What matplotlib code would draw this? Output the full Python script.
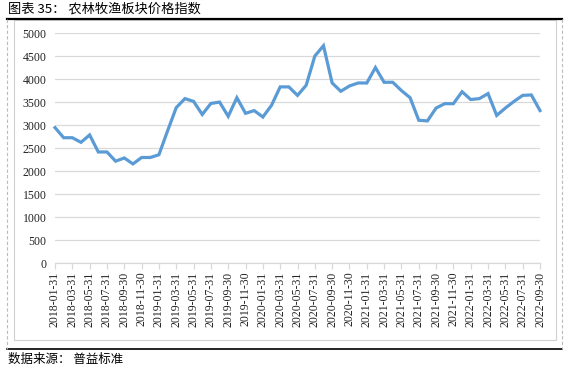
import numpy as np
import matplotlib.pyplot as plt
from matplotlib.lines import Line2D
from matplotlib.patches import Rectangle

# 月末日期（2018-01 到 2022-09）
fechas = ['2018-01-31', '2018-02-28', '2018-03-31', '2018-04-30', '2018-05-31', '2018-06-30',
          '2018-07-31', '2018-08-31', '2018-09-30', '2018-10-31', '2018-11-30', '2018-12-31',
          '2019-01-31', '2019-02-28', '2019-03-31', '2019-04-30', '2019-05-31', '2019-06-30',
          '2019-07-31', '2019-08-31', '2019-09-30', '2019-10-31', '2019-11-30', '2019-12-31',
          '2020-01-31', '2020-02-29', '2020-03-31', '2020-04-30', '2020-05-31', '2020-06-30',
          '2020-07-31', '2020-08-31', '2020-09-30', '2020-10-31', '2020-11-30', '2020-12-31',
          '2021-01-31', '2021-02-28', '2021-03-31', '2021-04-30', '2021-05-31', '2021-06-30',
          '2021-07-31', '2021-08-31', '2021-09-30', '2021-10-31', '2021-11-30', '2021-12-31',
          '2022-01-31', '2022-02-28', '2022-03-31', '2022-04-30', '2022-05-31', '2022-06-30',
          '2022-07-31', '2022-08-31', '2022-09-30']

indice = [2950, 2730, 2730, 2630, 2790, 2420, 2420, 2220, 2290, 2160,
          2300, 2300, 2360, 2880, 3385, 3580, 3520, 3235, 3475, 3505,
          3195, 3600, 3260, 3320, 3180, 3435, 3835, 3835, 3650, 3870,
          4505, 4730, 3920, 3740, 3855, 3920, 3920, 4255, 3935, 3935,
          3755, 3600, 3110, 3095, 3375, 3470, 3470, 3730, 3560, 3580,
          3690, 3215, 3375, 3520, 3650, 3660, 3320]

yticks = [0, 500, 1000, 1500, 2000, 2500, 3000, 3500, 4000, 4500, 5000]

plt.rcParams['font.family'] = ['Liberation Serif', 'Noto Sans CJK SC']

fig = plt.figure(figsize=(5.74, 3.68), dpi=100)
W, H = 574, 368

def fx(px):
    return px / W

def fy(py):
    return 1 - py / H

# marco exterior
fig.add_artist(Line2D([fx(7), fx(562)], [fy(18.5), fy(18.5)], color='black', lw=1.6))
fig.add_artist(Line2D([fx(7), fx(562)], [fy(349), fy(349)], color='black', lw=1.2))
for xv in [7, 562]:
    fig.add_artist(Line2D([fx(xv), fx(xv)], [fy(19), fy(349)], color='#bbbbbb', lw=0.8, ls=(0, (3, 2))))
fig.add_artist(Rectangle((fx(14), fy(340)), fx(556) - fx(14), fy(20) - fy(340),
                         fill=False, edgecolor='#d0d0d0', lw=0.8))

fig.text(fx(8), fy(9.5), '图表 35： 农林牧渔板块价格指数', fontsize=9.5,
         family=['Noto Sans CJK SC'], va='center', ha='left')
fig.text(fx(8), fy(359), '数据来源： 普益标准', fontsize=9,
         family=['Noto Sans CJK SC'], va='center', ha='left')

ax = fig.add_axes([fx(55), fy(263.3), fx(540) - fx(55), fy(33.3) - fy(263.3)])
x = np.arange(len(indice))
ax.plot(x, indice, color='#5B9BD5', lw=2.3, solid_joinstyle='miter', clip_on=False)

ax.set_xlim(0, len(indice) - 1)
ax.set_ylim(0, 5000)
ax.set_yticks(yticks)
ax.set_yticklabels([str(v) for v in yticks])
ax.set_xticks(x[::2])
ax.set_xticklabels(fechas[::2], rotation=90)

ax.grid(axis='y', color='#d9d9d9', lw=0.9)
ax.set_axisbelow(True)
for s in ['top', 'right', 'left']:
    ax.spines[s].set_visible(False)
ax.spines['bottom'].set_color('#d9d9d9')
ax.spines['bottom'].set_linewidth(0.9)
ax.tick_params(axis='y', length=0, pad=6, labelsize=8.5, labelcolor='#222222')
ax.tick_params(axis='x', length=4, width=0.9, color='#d9d9d9', pad=2, labelsize=8.5,
               labelcolor='#222222')

fig.savefig('out.png', dpi=100)
